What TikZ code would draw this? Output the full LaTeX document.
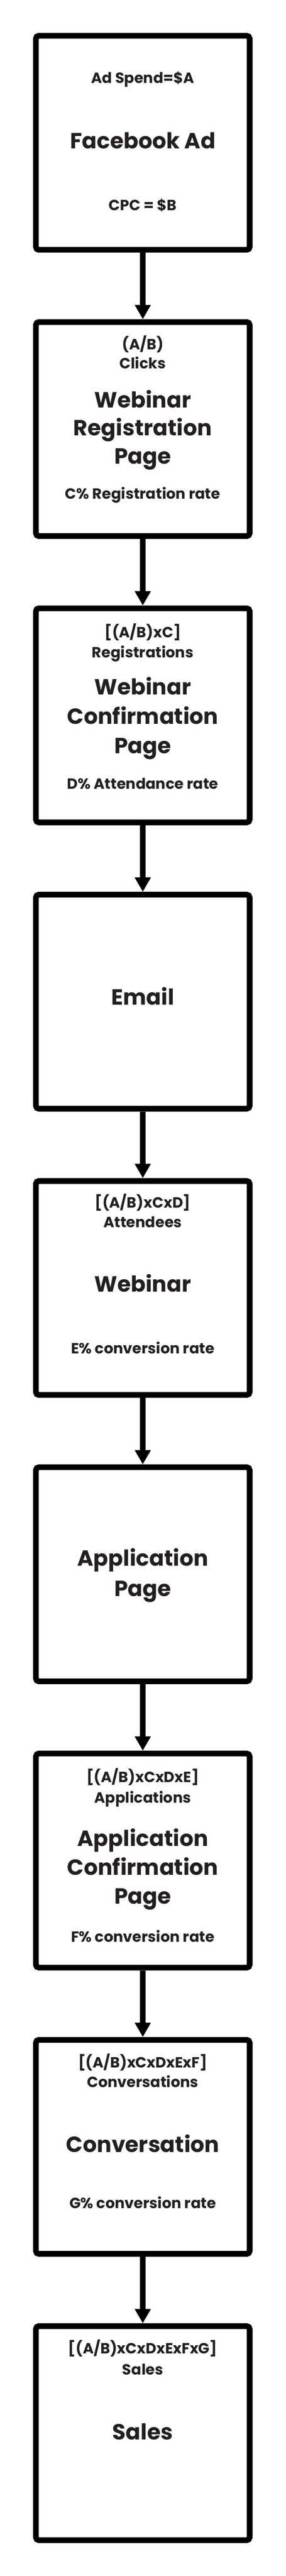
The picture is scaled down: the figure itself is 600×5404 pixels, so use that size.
\documentclass[tikz,border=0pt]{standalone}
\usepackage{fontspec}
\setmainfont{Poppins}
\usepackage{xcolor}
\usetikzlibrary{arrows.meta}
\definecolor{ink}{HTML}{231F20}

\begin{document}
\begin{tikzpicture}[x=1pt,y=1pt,yscale=-1,xscale=1,
	stage/.style={draw=black,line width=12pt,rounded corners=6pt,minimum width=449pt,minimum height=449pt,inner sep=0pt,fill=white},
	hdr/.style={anchor=base,inner sep=0.75pt,text=ink,font=\fontsize{31}{36}\selectfont\bfseries},
	ttl/.style={anchor=base,inner sep=0.75pt,text=ink,font=\fontsize{46}{55}\selectfont\bfseries},
	rate/.style={anchor=base,inner sep=0.75pt,text=ink,font=\fontsize{31}{36}\selectfont\bfseries},
	flow/.style={line width=12pt,-{Triangle[width=32pt,length=30pt]}}]
			\useasboundingbox (0,0) rectangle (600,5404);
	
			% Rounded Rect
			\draw (300,299.5) node [stage] (fbbox) {};
			% Rounded Rect
			\draw (300,900.1) node [stage] (regbox) {};
			% Rounded Rect
			\draw (300,1500.7) node [stage] (confbox) {};
			% Rounded Rect
			\draw (300,2101.3) node [stage] (mailbox) {};
			% Rounded Rect
			\draw (300,2701.9) node [stage] (webbox) {};
			% Rounded Rect
			\draw (300,3302.5) node [stage] (appbox) {};
			% Rounded Rect
			\draw (300,3903.1) node [stage] (appconfbox) {};
			% Rounded Rect
			\draw (300,4503.7) node [stage] (convbox) {};
			% Rounded Rect
			\draw (300,5104.3) node [stage] (salesbox) {};
	
			% Text Node
			\draw (300,175) node [rate] (fbspend) {Ad Spend=\$A};
			% Text Node
			\draw (300,312) node [ttl] (fbttl) {Facebook Ad};
			% Text Node
			\draw (300,441) node [rate] (fbcpc) {CPC = \$B};
	
			% Text Node
			\draw (300,733.5) node [hdr] (regnum) {(A/B)};
			% Text Node
			\draw (300,773.5) node [hdr] (regwhat) {Clicks};
			% Text Node
			\draw (300,855) node [ttl] (regttla) {Webinar};
			% Text Node
			\draw (300,914) node [ttl] (regttlb) {Registration};
			% Text Node
			\draw (300,973) node [ttl] (regttlc) {Page};
			% Text Node
			\draw (300,1046.5) node [rate] (regrate) {C\% Registration rate};
	
			% Text Node
			\draw (300,1337) node [hdr] (confnum) {[(A/B)xC]};
			% Text Node
			\draw (300,1380) node [hdr] (confwhat) {Registrations};
			% Text Node
			\draw (300,1457.5) node [ttl] (confttla) {Webinar};
			% Text Node
			\draw (300,1519.5) node [ttl] (confttlb) {Confirmation};
			% Text Node
			\draw (300,1580.5) node [ttl] (confttlc) {Page};
			% Text Node
			\draw (300,1655) node [rate] (confrate) {D\% Attendance rate};
	
			% Text Node
			\draw (300,2108) node [ttl] (mailttl) {Email};
	
			% Text Node
			\draw (300,2533.5) node [hdr] (webnum) {[(A/B)xCxD]};
			% Text Node
			\draw (300,2575.5) node [hdr] (webwhat) {Attendees};
			% Text Node
			\draw (300,2710.5) node [ttl] (webttl) {Webinar};
			% Text Node
			\draw (300,2840) node [rate] (webrate) {E\% conversion rate};
	
			% Text Node
			\draw (300,3285) node [ttl] (appttla) {Application};
			% Text Node
			\draw (300,3349) node [ttl] (appttlb) {Page};
	
			% Text Node
			\draw (300,3739.5) node [hdr] (appconfnum) {[(A/B)xCxDxE]};
			% Text Node
			\draw (300,3782.5) node [hdr] (appconfwhat) {Applications};
			% Text Node
			\draw (300,3872.5) node [ttl] (appconfttla) {Application};
			% Text Node
			\draw (300,3933.5) node [ttl] (appconfttlb) {Confirmation};
			% Text Node
			\draw (300,3994.5) node [ttl] (appconfttlc) {Page};
			% Text Node
			\draw (300,4074.5) node [rate] (appconfrate) {F\% conversion rate};
	
			% Text Node
			\draw (300,4338) node [hdr] (convnum) {[(A/B)xCxDxExF]};
			% Text Node
			\draw (300,4379) node [hdr] (convwhat) {Conversations};
			% Text Node
			\draw (300,4515) node [ttl] (convttl) {Conversation};
			% Text Node
			\draw (300,4633) node [rate] (convrate) {G\% conversion rate};
	
			% Text Node
			\draw (300,4938) node [hdr] (salesnum) {[(A/B)xCxDxExFxG]};
			% Text Node
			\draw (300,4982) node [hdr] (saleswhat) {Sales};
			% Text Node
			\draw (300,5118) node [ttl] (salesttl) {Sales};
	
			% Connection
			\draw [flow] (fbbox) -- (regbox);
			% Connection
			\draw [flow] (regbox) -- (confbox);
			% Connection
			\draw [flow] (confbox) -- (mailbox);
			% Connection
			\draw [flow] (mailbox) -- (webbox);
			% Connection
			\draw [flow] (webbox) -- (appbox);
			% Connection
			\draw [flow] (appbox) -- (appconfbox);
			% Connection
			\draw [flow] (appconfbox) -- (convbox);
			% Connection
			\draw [flow] (convbox) -- (salesbox);
			\end{tikzpicture}
\end{document}
